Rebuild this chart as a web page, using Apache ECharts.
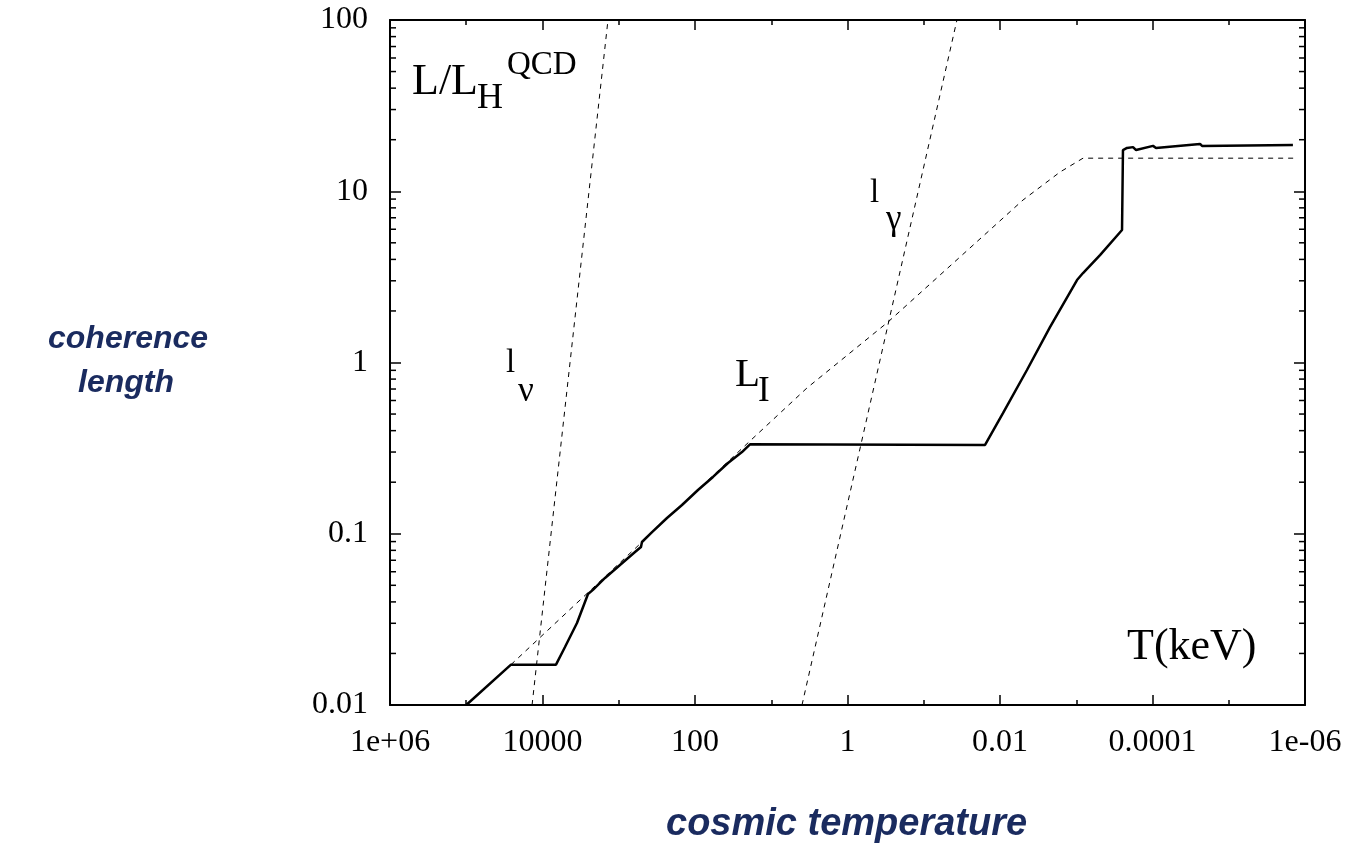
<!DOCTYPE html>
<html>
<head>
<meta charset="utf-8">
<script src="https://cdn.jsdelivr.net/npm/echarts@6/dist/echarts.min.js"></script>
<style>
  html, body { margin: 0; padding: 0; background: #fff; }
  #chart { width: 1353px; height: 868px; }
</style>
</head>
<body>
<div id="chart"></div>
<script>
// Coherence length L/L_H^QCD versus cosmic temperature T (keV)
const coherenceT = [1e5, 2.59e4, 6650, 5070, 3530, 2530, 2180, 1514, 963, 612, 511, 496, 366, 233, 148, 91.4, 58.1, 36.9, 24.2, 19.0,
  0.0157, 0.00914, 0.00443, 0.00221, 9.77e-4, 8.15e-4, 4.88e-4, 2.51e-4, 2.44e-4, 2.16e-4, 1.80e-4, 1.64e-4, 9.84e-5, 9.0e-5, 2.38e-5, 2.24e-5, 1.44e-6];
const coherenceL = [0.01, 0.0172, 0.0172, 0.0218, 0.0301, 0.0445, 0.0470, 0.0552, 0.0657, 0.0782, 0.0837, 0.0895, 0.1023, 0.1236, 0.1472, 0.180, 0.2146, 0.259, 0.300, 0.333,
  0.330, 0.507, 0.904, 1.611, 3.03, 3.33, 4.24, 5.94, 17.4, 17.9, 18.1, 17.4, 18.4, 17.9, 18.9, 18.4, 18.6];

// L_I
const inflationT = [2.59e4, 19.0, 3.40, 0.294, 0.0335, 0.00499, 0.00163, 8.15e-4, 1.39e-6];
const inflationL = [0.0172, 0.348, 0.710, 1.724, 4.13, 8.89, 12.95, 15.6, 15.6];

// l_nu
const neutrinoT = [13700, 1384];
const neutrinoL = [0.01, 100];

// l_gamma
const photonT = [3.95, 0.0367];
const photonL = [0.01, 100];

// tick labels by decade exponent
const xTickLabels = { '6': '1e+06', '4': '10000', '2': '100', '0': '1', '-2': '0.01', '-4': '0.0001', '-6': '1e-06' };
const yTickLabels = { '-2': '0.01', '-1': '0.1', '0': '1', '1': '10', '2': '100' };

const pairs = (xs, ys) => xs.map((x, i) => [x, ys[i]]);
const decade = v => String(Math.round(Math.log10(v)));

// minor ticks 2..9 within each decade of the y range
const yMinor = [];
for (let e = -2; e < 2; e++) for (let k = 2; k <= 9; k++) yMinor.push(k * Math.pow(10, e));

const serif = 'Liberation Serif';
const sans = 'Liberation Sans';
const navy = '#1a2b5f';
const frame = { show: true, onZero: false, lineStyle: { color: '#000', width: 2 } };

function xAxis(position, step, len, labels, line) {
  return {
    type: 'log', logBase: 10, min: 1e-6, max: 1e6, interval: step, inverse: true,
    position: position, gridIndex: 0,
    axisLine: line ? frame : { show: false },
    axisTick: { show: true, inside: true, length: len, lineStyle: { color: '#000', width: 1.5 } },
    axisLabel: labels ? {
      show: true, margin: 22, color: '#000', fontFamily: serif, fontSize: 32,
      formatter: v => xTickLabels[decade(v)] || ''
    } : { show: false },
    splitLine: { show: false }
  };
}

function yAxis(position, labels) {
  return {
    type: 'log', logBase: 10, min: 0.01, max: 100, interval: 1,
    position: position, gridIndex: 0,
    axisLine: frame,
    axisTick: { show: true, inside: true, length: 11, lineStyle: { color: '#000', width: 1.5 } },
    axisLabel: labels ? {
      show: true, margin: 22, color: '#000', fontFamily: serif, fontSize: 32,
      formatter: v => yTickLabels[decade(v)] || ''
    } : { show: false },
    splitLine: { show: false }
  };
}

const dashed = { color: '#000', width: 1, type: [5, 5] };

const chart = echarts.init(document.getElementById('chart'), null, { renderer: 'canvas' });
chart.setOption({
  animation: false,
  backgroundColor: '#fff',
  grid: { left: 390, right: 48, top: 20, bottom: 163, containLabel: false },
  xAxis: [
    xAxis('bottom', 1, 5, true, true),
    xAxis('bottom', 2, 10, false, false),
    xAxis('top', 1, 5, false, true),
    xAxis('top', 2, 10, false, false)
  ],
  yAxis: [yAxis('left', true), yAxis('right', false)],
  series: [
    {
      type: 'custom', xAxisIndex: 0, yAxisIndex: 0, silent: true, clip: false, z: 5,
      data: yMinor.map(v => [1, v]),
      renderItem: function (params, api) {
        const cs = params.coordSys;
        const y = api.coord([1, api.value(1)])[1];
        const st = { stroke: '#000', lineWidth: 1.5 };
        return {
          type: 'group', children: [
            { type: 'line', shape: { x1: cs.x, y1: y, x2: cs.x + 6, y2: y }, style: st },
            { type: 'line', shape: { x1: cs.x + cs.width - 6, y1: y, x2: cs.x + cs.width, y2: y }, style: st }
          ]
        };
      }
    },
    { name: 'L_I', type: 'line', data: pairs(inflationT, inflationL), showSymbol: false, lineStyle: dashed, z: 2 },
    { name: 'l_nu', type: 'line', data: pairs(neutrinoT, neutrinoL), showSymbol: false, lineStyle: dashed, z: 2 },
    { name: 'l_gamma', type: 'line', data: pairs(photonT, photonL), showSymbol: false, lineStyle: dashed, z: 2 },
    { name: 'L', type: 'line', data: pairs(coherenceT, coherenceL), showSymbol: false, lineStyle: { color: '#000', width: 2.5 }, z: 3 }
  ],
  graphic: [
    { type: 'text', left: 412, top: 60, style: { text: 'L/L', font: '44px "' + serif + '"', fill: '#000' } },
    { type: 'text', left: 477, top: 81, style: { text: 'H', font: '36px "' + serif + '"', fill: '#000' } },
    { type: 'text', left: 507, top: 49, style: { text: 'QCD', font: '33px "' + serif + '"', fill: '#000' } },
    { type: 'text', left: 506, top: 347, style: { text: 'l', font: '33px "' + serif + '"', fill: '#000' } },
    { type: 'text', left: 518, top: 374, style: { text: 'ν', font: '35px "' + serif + '"', fill: '#000' } },
    { type: 'text', left: 735, top: 355, style: { text: 'L', font: '41px "' + serif + '"', fill: '#000' } },
    { type: 'text', left: 758, top: 374, style: { text: 'I', font: '35px "' + serif + '"', fill: '#000' } },
    { type: 'text', left: 870, top: 177, style: { text: 'l', font: '33px "' + serif + '"', fill: '#000' } },
    { type: 'text', left: 886, top: 202, style: { text: 'γ', font: '35px "' + serif + '"', fill: '#000' } },
    { type: 'text', left: 1127, top: 625, style: { text: 'T(keV)', font: '44px "' + serif + '"', fill: '#000' } },
    { type: 'text', left: 48, top: 323, style: { text: 'coherence', font: 'italic bold 32px "' + sans + '"', fill: navy } },
    { type: 'text', left: 78, top: 367, style: { text: 'length', font: 'italic bold 32px "' + sans + '"', fill: navy } },
    { type: 'text', left: 666, top: 806, style: { text: 'cosmic temperature', font: 'italic bold 38px "' + sans + '"', fill: navy } },
    // the title's last letter is cut off at the right
    { type: 'rect', left: 1027, top: 798, shape: { width: 40, height: 55 }, style: { fill: '#fff' }, z: 100 }
  ]
});
</script>
</body>
</html>
